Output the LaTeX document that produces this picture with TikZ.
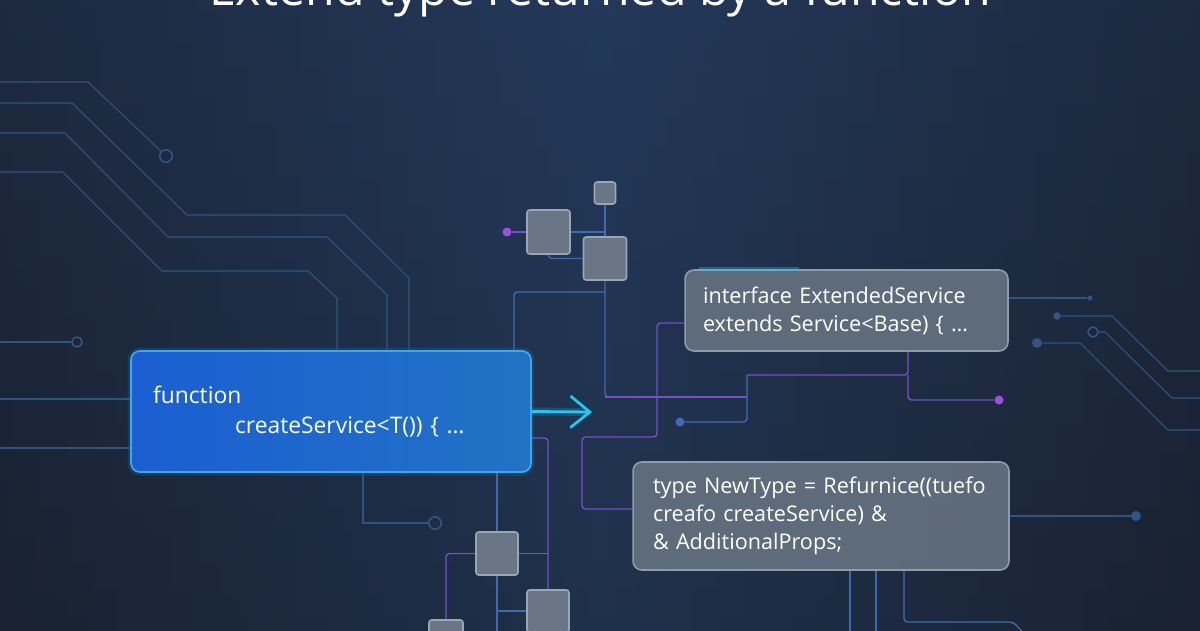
\documentclass[tikz,border=0pt]{standalone}
\usepackage{fontspec}
\setmainfont{Open Sans}
\usetikzlibrary{positioning,arrows.meta,calc}

\definecolor{bgdark}{HTML}{1A2231}
\definecolor{bgmid}{HTML}{23395A}
\definecolor{tracecol}{HTML}{2B5684}
\definecolor{wirecol}{HTML}{3E6BB0}
\definecolor{wirepurple}{HTML}{7650C4}
\definecolor{dotpurple}{HTML}{9D4FE3}
\definecolor{dotblue}{HTML}{4468B8}
\definecolor{dotdark}{HTML}{2E5687}
\definecolor{chipfill}{HTML}{6A7686}
\definecolor{chipedge}{HTML}{9AA6B4}
\definecolor{cardfill}{HTML}{63707F}
\definecolor{cardedge}{HTML}{8E9BAB}
\definecolor{fnleft}{HTML}{1B5ED2}
\definecolor{fnright}{HTML}{2173C4}
\definecolor{fnedge}{HTML}{3AAAF0}
\definecolor{glowcol}{HTML}{24C6F2}

\tikzset{
  trace/.style={draw=tracecol, line width=0.6pt},
  wire/.style={draw=wirecol, line width=0.8pt, rounded corners=2pt},
  pwire/.style={draw=wirepurple, line width=0.8pt, rounded corners=2pt},
  chip/.style={rectangle, rounded corners=1.5pt, fill=chipfill, draw=chipedge, line width=0.9pt, inner sep=0pt},
  card/.style={rectangle, rounded corners=5pt, fill=cardfill, fill opacity=0.93, text opacity=1,
    draw=cardedge, line width=0.9pt, text=white, align=left, inner ysep=0pt,
    font=\fontsize{12.3}{16}\selectfont},
  fnbox/.style={rectangle, rounded corners=5pt, left color=fnleft, right color=fnright,
    draw=fnedge, line width=1pt, text=white, align=left, inner ysep=0pt,
    font=\fontsize{13}{17}\selectfont,
    preaction={draw=glowcol, draw opacity=0.12, line width=4pt}},
  flow/.style={draw=glowcol, line width=1.6pt, -{Straight Barb[length=11pt,width=18pt]}},
  pdot/.style={circle, fill=dotpurple, inner sep=0pt, minimum size=0.18cm},
  bdot/.style={circle, fill=dotblue, inner sep=0pt, minimum size=0.18cm},
  ddot/.style={circle, fill=dotdark, inner sep=0pt, minimum size=0.2cm},
  ring/.style={circle, draw=dotdark, line width=0.9pt, inner sep=0pt, minimum size=0.25cm},
  heading/.style={text=white, anchor=base, font=\fontsize{27.5}{30}\selectfont},
}

\begin{document}
\begin{tikzpicture}[x=0.02cm, y=-0.02cm]
\useasboundingbox (0,0) rectangle (1200,630);
\clip (0,0) rectangle (1200,630);

% background
\shade[left color=bgdark, right color=bgdark, middle color=bgmid] (0,0) rectangle (1200,630);
\shade[top color=bgmid, bottom color=bgdark, opacity=0.35] (0,0) rectangle (1200,630);

\node[heading] (title) at (600,5) {Extend type returned by a function};

% boxes
\node[fnbox, minimum width=8cm, minimum height=2.42cm, text width=7.12cm, inner xsep=0.44cm]
  (fn) at (331,411.5) {function\\\hspace*{1.64cm}createService<T()) \{ …};
\node[card, minimum width=6.46cm, minimum height=1.62cm, text width=5.74cm, inner xsep=0.36cm]
  (ext) at (846.5,310.5) {interface ExtendedService\\extends Service<Base) \{ …};
\node[card, minimum width=7.52cm, minimum height=2.16cm, text width=6.72cm, inner xsep=0.4cm]
  (newtype) at (821,516) {type NewType = Refurnice((tuefo\\creafo createService) \&\\\& AdditionalProps;};

% chips
\node[chip, minimum width=0.42cm, minimum height=0.44cm] (c1) at (605,193) {};
\node[chip, minimum width=0.86cm, minimum height=0.88cm] (c2) at (548.5,232) {};
\node[chip, minimum width=0.86cm, minimum height=0.86cm] (c3) at (605,258.5) {};
\node[chip, minimum width=0.84cm, minimum height=0.86cm] (c4) at (497,553.5) {};
\node[chip, minimum width=0.84cm, minimum height=0.84cm] (c5) at (548,611) {};
\node[chip, minimum width=0.68cm, minimum height=0.68cm] (c6) at (446,637) {};

% dots and rings
\node[pdot] (p1) at (507,232) {};
\node[pdot] (p2) at (999,400) {};
\node[bdot] (b1) at (680,422) {};
\node[ring] (r1) at (166,156) {};
\node[ring, minimum size=0.2cm] (r2) at (77,342) {};
\node[ring] (r3) at (435,523) {};
\node[ring, minimum size=0.2cm] (r4) at (1093,332) {};
\node[circle, fill=dotdark, inner sep=0pt, minimum size=0.1cm] (d1) at (1090,298) {};
\node[ddot, minimum size=0.15cm] (d2) at (1057,316) {};
\node[ddot] (d3) at (1037,343) {};
\node[ddot] (d4) at (1136,516) {};

\coordinate (j1) at (747,397);
\coordinate (j2) at (747,375);
\coordinate (j4) at (908,375);
\coordinate (tip) at (592,412);

% left traces
\draw[trace] (0,82) -- (88,82) -- (r1);
\draw[trace] (0,103) -- (72,103) -- (187,215) -- (345,215) -- (409,278) -- (fn.north -| 409,0);
\draw[trace] (0,133) -- (65,133) -- (168,237) -- (327,237) -- (387,295) -- (fn.north -| 387,0);
\draw[trace] (0,172) -- (63,172) -- (162,271) -- (308,271) -- (337,298) -- (fn.north -| 337,0);
\draw[trace] (0,342) -- (r2);
\draw[trace] (0,399) -- (fn.west |- 0,399);
\draw[trace] (0,448) -- (fn.west |- 0,448);

% chip wiring
\draw[pwire] (p1) -- (c2.west);
\draw[wire] (c2.east) -- (c2.east -| c1.south);
\draw[wire] (c1.south) -- (c3.north);
\draw[wire] (c2.south) |- (c3.west);
\draw[wire] (fn.north -| 514,0) |- (605,292);
\draw[wire] (c3.south) -- (605,385) |- (j1);
\draw[pwire] (605,397) -- (j1);
\draw[wire] (j2) |- (b1);
\draw[pwire] (j2) -| (ext.south -| j4);
\draw[pwire] (j4) |- (p2);
\draw[pwire] (ext.west |- 0,323) -| (657,437) -| (582,509) -- (newtype.west |- 0,509);

% lower wiring
\draw[trace] (fn.south -| 363,0) |- (r3);
\draw[wire] (fn.south -| c4.north) -- (c4.north);
\draw[pwire] (fn.east |- 0,438) -| (c5.north);
\draw[pwire] (c4.east) -- (c4.east -| c5.north);
\draw[pwire] (c4.west) -| (c6.north);
\draw[wire] (c4.south) -- (c4.south |- 0,640);
\draw[wire] (c4.south |- c5.west) -- (c5.west);

% right traces
\draw[trace] (ext.east |- d1) -- (d1);
\draw[trace] (d2) -- (1112,316) -- (1168,371) -- (1200,371);
\draw[trace] (r4) -- (1105,332) -- (1172,398) -- (1200,398);
\draw[trace] (d3) -- (1080,343) -- (1168,430) -- (1200,430);
\draw[trace] (newtype.east) -- (d4);
\draw[wire] (newtype.south -| 850,0) -- (850,640);
\draw[wire] (newtype.south -| 876,0) -- (876,640);
\draw[wire] (newtype.south -| 904,0) |- (1013,622) -- (1025,634);

% glow on card top
\draw[draw=glowcol, draw opacity=0.35, line width=2pt] ([xshift=0.3cm]ext.north west) -- ([xshift=2.3cm]ext.north west);

% arrow
\draw[draw=glowcol, draw opacity=0.2, line width=4.5pt] (fn.east) -- ([xshift=-0.1cm]tip);
\draw[flow] (fn.east) -- (tip);
\end{tikzpicture}
\end{document}
